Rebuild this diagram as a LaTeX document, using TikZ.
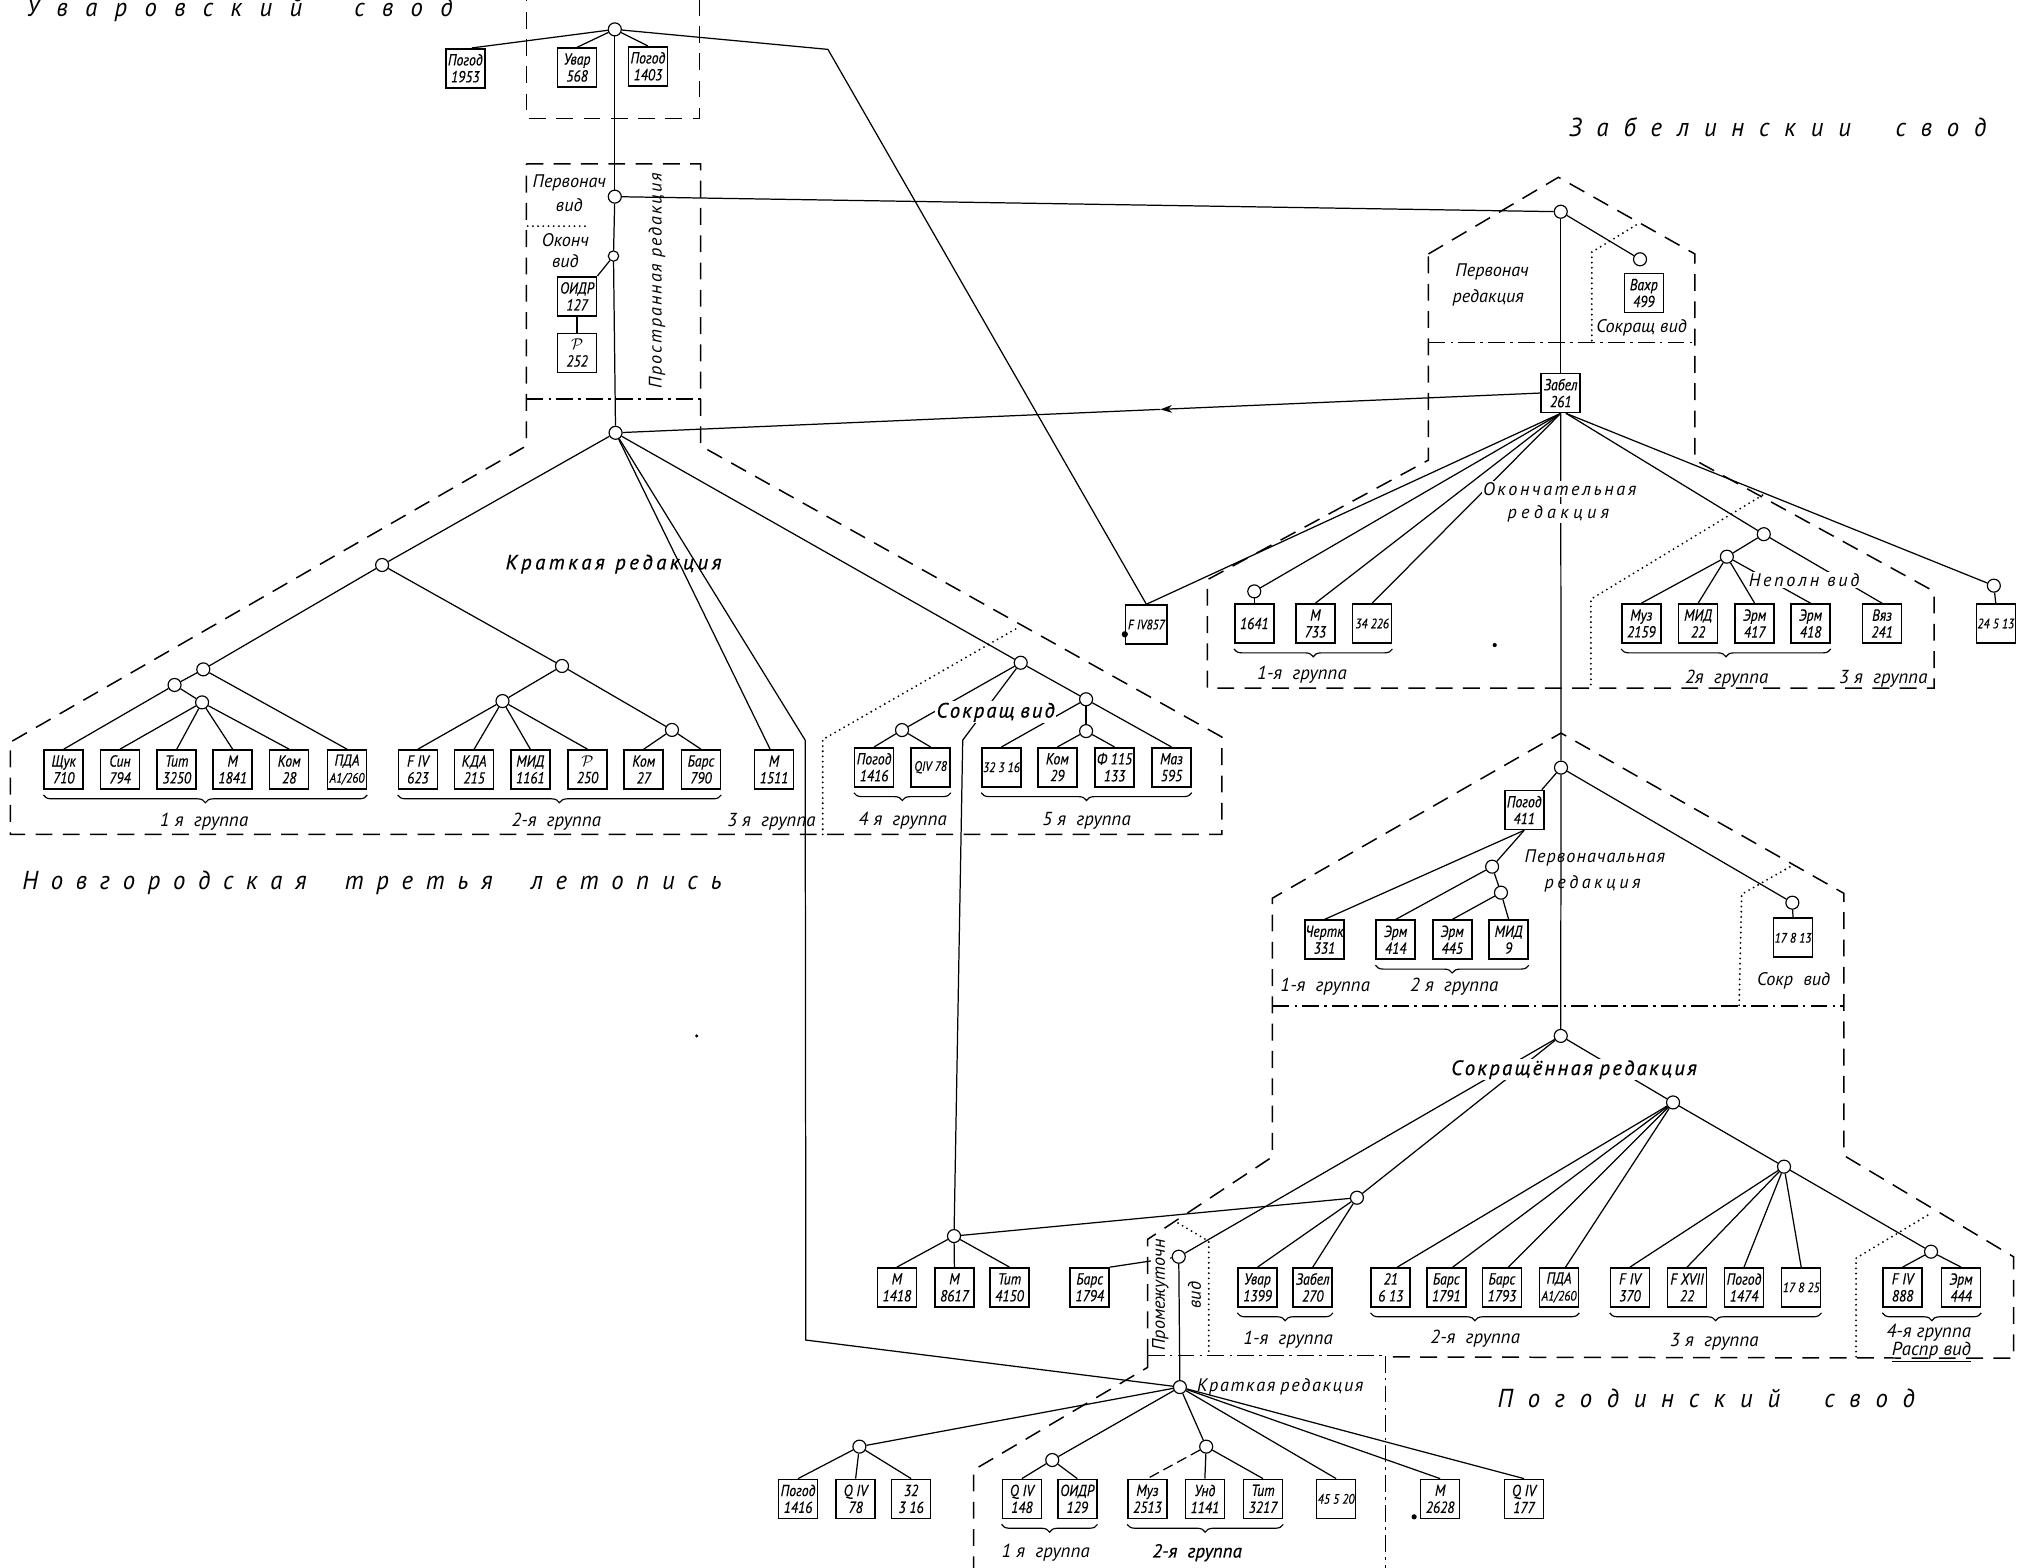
\documentclass[tikz,border=0pt]{standalone}
\usepackage{fontspec}
\setmainfont{PT Sans}
\newfontfamily\labfam[FakeStretch=1.0]{PT Sans}
\newfontfamily\grpfam[FakeStretch=1.0]{PT Sans}
\newfontfamily\ttlfam[FakeStretch=0.95]{PT Sans}
\newfontfamily\labbfam[FakeStretch=1.0,FakeBold=0.6]{PT Sans}
\newfontfamily\boxfam[FakeStretch=0.86,FakeBold=0.3]{PT Sans}
\usetikzlibrary{decorations.pathreplacing,arrows.meta,calc}
\pgfdeclarelayer{back}
\pgfdeclarelayer{bg}
\pgfsetlayers{back,bg,main}
\newcommand\labf{\labfam\itshape\fontsize{14}{15.5}\selectfont}
\newcommand\grpf{\grpfam\itshape\fontsize{14.5}{15.5}\selectfont}
\newcommand\labbf{\labbfam\itshape\fontsize{16}{17}\selectfont}
\newcommand\boxf{\boxfam\itshape\fontsize{12.3}{13}\selectfont}
\newcommand\smbox{\fontsize{10.5}{11}\selectfont}
\newcommand\ttlf{\ttlfam\itshape\fontsize{20}{21}\selectfont}
\newcommand\spr[2]{\makebox[#1][s]{#2}}
\newcommand\gsp{\hspace{4pt}}
\newcommand\gwp{\hspace{8pt}}
\makeatletter
\def\spaceout#1{\spaceout@#1\@nil}
\def\spaceout@#1#2\@nil{#1\ifx\relax#2\relax\else\hfil\spaceout@#2\@nil\fi}
\makeatother
\tikzset{
 bx/.style={draw, line width=1.2pt, minimum width=30pt, minimum height=30pt, inner sep=0pt, align=center, font=\boxf, fill=white},
 nd/.style={circle, draw, line width=0.9pt, minimum size=10pt, inner sep=0pt, fill=white},
 ln/.style={line width=0.95pt},
 dsh/.style={line width=1.15pt, dash pattern=on 13pt off 8pt},
 dd/.style={line width=1pt, dash pattern=on 13pt off 4pt on 2pt off 4pt},
 dt/.style={line width=1.6pt, dash pattern=on 0pt off 4pt, line cap=round},
 lab/.style={font=\labf, inner sep=1pt},
 grp/.style={font=\grpf, inner sep=1pt},
 labb/.style={font=\labbf, inner sep=1pt},
 brc/.style={decorate, decoration={brace, mirror, amplitude=6pt}, line width=0.9pt},
 ttl/.style={font=\ttlf, inner sep=0pt, anchor=base west},
}
\begin{document}
\begin{tikzpicture}[x=1pt,y=-1pt]
\useasboundingbox (0,0) rectangle (1568,1206);
\begin{pgfonlayer}{back}
\fill[white] (0,0) rectangle (1568,1206);
\end{pgfonlayer}

% ---------- titles
\node[ttl] (tU) at (20,13) {\spr{328pt}{\spaceout{Уваровский}\hfil\hfil\hfil\spaceout{свод}}};
\node[ttl] (tZ) at (1207,105) {\spr{321pt}{\spaceout{Забелинскии}\hfil\hfil\hfil\spaceout{свод}}};
\node[ttl] (tN) at (17,684) {\spr{538pt}{\spaceout{Новгородская}\hfil\hfil\hfil\spaceout{третья}\hfil\hfil\hfil\spaceout{летопись}}};
\node[ttl] (tP) at (1152,1083) {\spr{321pt}{\spaceout{Погодинский}\hfil\hfil\hfil\spaceout{свод}}};

% ---------- Uvarov
\node[nd] (u0) at (473,22.6) {};
\node[bx] (pg1953) at (358,52.5) {Погод\\1953};
\node[bx] (uv568) at (444,52) {Увар\\568};
\node[bx] (pg1403) at (498.5,51) {Погод\\1403};
\coordinate (ubend) at (637,38);
\node[nd] (pv) at (473,151.3) {};
\node[nd, minimum size=8pt] (ov) at (472,197) {};
\node[bx] (oidr127) at (444,228) {ОИДР\\127};
\node[bx] (p252) at (444,271.5) {$\mathcal{P}$\\252};

% ---------- Novgorod
\node[nd] (R) at (473.6,333) {};
\node[nd] (A) at (294,434.7) {};
\node[nd] (B1) at (156.4,515) {};
\node[nd] (B2) at (432.4,512.4) {};
\node[nd] (C1) at (134.3,527) {};
\node[nd] (C2) at (155.5,540.4) {};
\node[nd] (C3) at (386.6,539.4) {};
\node[nd] (C4) at (517,561.6) {};
\node[bx] (shchuk) at (49,592) {Щук\\710};
\node[bx] (sin) at (92.3,592) {Син\\794};
\node[bx] (tit3250) at (136,592) {Тит\\3250};
\node[bx] (m1841) at (179,592) {М\\1841};
\node[bx] (kom28) at (222.5,592) {Ком\\28};
\node[bx] (pda) at (267,592) {ПДА\\{\smbox А1/260}};
\node[bx] (fiv623) at (321.5,592) {F IV\\623};
\node[bx] (kda) at (364.8,592) {КДА\\215};
\node[bx] (mid1161) at (408,592) {МИД\\1161};
\node[bx] (p250) at (452,592) {$\mathcal{P}$\\250};
\node[bx] (kom27) at (495.3,592) {Ком\\27};
\node[bx] (bars790) at (539.3,592) {Барс\\790};
\node[bx] (m1511) at (595.5,592) {М\\1511};
\coordinate (nbend) at (619.5,569.5);
\coordinate (nbend2) at (620,1031);
\node[nd] (S) at (785.3,509.9) {};
\node[nd] (T) at (694,561.7) {};
\node[nd] (U) at (835.6,538) {};
\node[nd] (V) at (835.6,562.5) {};
\coordinate (sbend) at (740.7,569.4);
\node[bx] (pg1416) at (672.5,590.3) {Погод\\1416};
\node[bx] (qiv78) at (716,590.3) {\smbox QIV 78};
\node[bx] (b32316) at (770.5,590.3) {\smbox 32 3 16};
\node[bx] (kom29) at (813.5,590.3) {Ком\\29};
\node[bx] (f115) at (857.5,590.3) {Ф 115\\133};
\node[bx] (maz) at (901.3,590.3) {Маз\\595};
\node[bx, minimum width=32pt] (fiv857) at (882,480.5) {\smbox F IV857};

% ---------- Zabelin
\node[nd] (z0) at (1200.8,162.9) {};
\node[nd] (z1) at (1261.8,199.5) {};
\node[bx] (vahr) at (1264.7,225.5) {Вахр\\499};
\node[bx] (zabel261) at (1200.8,302.4) {Забел\\261};
\node[nd] (c1641) at (965,455) {};
\node[nd] (n1) at (1357,411) {};
\node[nd] (n2) at (1328.6,428.3) {};
\node[nd] (c24513) at (1534,450.6) {};
\node[bx] (z1641) at (965,479.7) {1641};
\node[bx] (m733) at (1012,479.7) {М\\733};
\node[bx] (b34226) at (1055.7,479.7) {\smbox 34 226};
\node[bx] (muz2159) at (1262.8,479.7) {Муз\\2159};
\node[bx] (mid22) at (1306.5,479.7) {МИД\\22};
\node[bx] (zrm417) at (1350,479.7) {Эрм\\417};
\node[bx] (zrm418) at (1393,479.7) {Эрм\\418};
\node[bx] (vyaz241) at (1448,479.7) {Вяз\\241};
\node[bx] (b24513) at (1535.5,479.7) {\smbox 24 5 13};
\coordinate (arrowpt) at ($(zabel261.west)!0.411!(R)$);

% ---------- Pogodin
\node[nd] (p0) at (1201,590.6) {};
\node[bx] (pog411) at (1172.7,623.2) {Погод\\411};
\node[nd] (q1) at (1148,666.8) {};
\node[nd] (q2) at (1154.8,686.8) {};
\node[nd] (r1) at (1379,694.5) {};
\node[bx] (chertk) at (1019,723) {Чертк\\331};
\node[bx] (zrm414) at (1073.8,723) {Эрм\\414};
\node[bx] (zrm445) at (1117.3,723) {Эрм\\445};
\node[bx] (mid9) at (1160.7,723) {МИД\\9};
\node[bx] (b17813) at (1379.5,721.5) {\smbox 17 8 13};
\node[nd] (p1) at (1200.8,797) {};
\node[nd] (p2) at (1287.2,848.2) {};
\node[nd] (p3) at (1044,921.5) {};
\node[nd] (p4) at (1372.6,897.6) {};
\node[nd] (p5) at (1485.7,963) {};
\node[nd] (msub) at (734,951) {};
\node[nd] (pr) at (906.9,966.9) {};
\node[nd] (k) at (907.8,1067.2) {};
\node[nd] (k1) at (661.2,1113) {};
\node[nd] (k2) at (809.6,1123.3) {};
\node[nd] (k3) at (928,1113) {};
\node[bx] (m1418) at (690,990.5) {М\\1418};
\node[bx] (m8617) at (734.3,990.5) {М\\8617};
\node[bx] (tit4150) at (776.7,990.5) {Тит\\4150};
\node[bx] (bars1794) at (838.4,990.5) {Барс\\1794};
\node[bx] (uvar1399) at (967.5,990.5) {Увар\\1399};
\node[bx] (zabel270) at (1010,990.5) {Забел\\270};
\node[bx] (b21613) at (1070,990.5) {21\\6 13};
\node[bx] (bars1791) at (1112.7,990.5) {Барс\\1791};
\node[bx] (bars1793) at (1155.5,990.5) {Барс\\1793};
\node[bx] (pda2) at (1199.5,990.5) {ПДА\\{\smbox А1/260}};
\node[bx] (fiv370) at (1254,990.5) {F IV\\370};
\node[bx] (fxvii) at (1298,990.5) {F XVII\\22};
\node[bx] (pog1474) at (1341.8,990.5) {Погод\\1474};
\node[bx] (b17825) at (1385.8,990.5) {\smbox 17 8 25};
\node[bx] (fiv888) at (1463.8,990.5) {F IV\\888};
\node[bx] (zrm444) at (1508.8,990.5) {Эрм\\444};
\node[bx] (pg1416b) at (614,1153.2) {Погод\\1416};
\node[bx] (qiv78b) at (658.3,1153.2) {Q IV\\78};
\node[bx] (b32316b) at (701,1153.2) {32\\3 16};
\node[bx] (qiv148) at (786.2,1153.2) {Q IV\\148};
\node[bx] (oidr129) at (828.8,1153.2) {ОИДР\\129};
\node[bx] (muz2513) at (882.8,1153.2) {Муз\\2513};
\node[bx] (und1141) at (927,1153.2) {Унд\\1141};
\node[bx] (tit3217) at (971.7,1153.2) {Тит\\3217};
\node[bx] (b45520) at (1028,1153.2) {\smbox 45 5 20};
\node[bx] (m2628) at (1108,1153.2) {М\\2628};
\node[bx] (qiv177) at (1172.5,1153.2) {Q IV\\177};

% ---------- labels
\node[lab] (lpv1) at (438,141) {Первонач};
\node[lab] (lpv2) at (438,158) {вид};
\node[lab] (lov1) at (435,185) {Оконч};
\node[lab] (lov2) at (435,201) {вид};
\node[lab, rotate=90] (lpr) at (505.5,216) {\spr{166pt}{\spaceout{Пространная}\hfil\hfil\hfil\spaceout{редакция}}};
\node[labb] (lkrN) at (472,434) {\spr{166pt}{\spaceout{Краткая}\hfil\hfil\hfil\spaceout{редакция}}};
\node[labb, fill=white] (lsvN) at (766,548) {\spr{91pt}{\spaceout{Сокращ}\hfil\hfil\hfil\spaceout{вид}}};
\node[lab] (lpz1) at (1148,209) {Первонач};
\node[lab] (lpz2) at (1145,229.5) {редакция};
\node[lab] (lsvZ) at (1263,252.4) {Сокращ\gsp вид};
\node[lab, fill=white] (lok1) at (1200,376) {\spr{118pt}{\spaceout{Окончательная}}};
\node[lab, fill=white] (lok2) at (1199,395) {\spr{78pt}{\spaceout{редакция}}};
\node[lab, fill=white] (lnp) at (1388,446) {\spr{85pt}{\spaceout{Неполн}\hfil\hfil\hfil\spaceout{вид}}};
\node[lab] (lpp1) at (1227,660) {\spr{108pt}{\spaceout{Первоначальная}}};
\node[lab] (lpp2) at (1225.3,680) {\spr{74pt}{\spaceout{редакция}}};
\node[lab] (lsk) at (1380,754.5) {Сокр\gwp вид};
\node[labb, fill=white] (lsr) at (1211,823) {\spr{189pt}{\spaceout{Сокращённая}\hfil\hfil\hfil\spaceout{редакция}}};
\node[lab, fill=white, rotate=90] (lpm1) at (892.8,999) {\spr{80pt}{\spaceout{Промежуточн}}};
\node[lab, rotate=90] (lpm2) at (919,996.4) {вид};
\node[lab] (lkrP) at (985,1067) {\spr{128pt}{\spaceout{Краткая}\hfil\hfil\hfil\spaceout{редакция}}};

% group labels
\node[grp] (g1) at (157,632) {1\gsp я\gwp группа};
\node[grp] (g2) at (428,632) {2-я\gwp группа};
\node[grp] (g3) at (593.5,632) {3\gsp я\gwp группа};
\node[grp] (g4) at (694.5,631.6) {4\gsp я\gwp группа};
\node[grp] (g5) at (836,631.6) {5\gsp я\gwp группа};
\node[grp] (gz1) at (1001.7,519) {1-я\gwp группа};
\node[grp] (gz2) at (1328.5,522) {2я\gwp группа};
\node[grp] (gz3) at (1449,522) {3\gsp я\gwp группа};
\node[grp] (gp1) at (1019.6,759) {1-я\gwp группа};
\node[grp] (gp2) at (1118.8,759) {2\gsp я\gwp группа};
\node[grp] (gs1) at (991,1031) {1-я\gwp группа};
\node[grp] (gs2) at (1135,1030) {2-я\gwp группа};
\node[grp] (gs3) at (1319,1032) {3\gsp я\gwp группа};
\node[grp] (gs4) at (1484,1025.4) {4-я\gsp группа};
\node[grp] (gs5) at (1486,1040) {\underline{Распр\gsp вид}};
\node[grp] (gk1) at (804.5,1194.6) {1\gsp я\gwp группа};
\node[labb, font=\labbfam\itshape\fontsize{14.5}{15}\selectfont] (gk2) at (921,1194.6) {2-я\gwp группа};

% ---------- boundaries and connectors
\begin{pgfonlayer}{bg}
% Uvarov & Novgorod boundaries
\draw[dsh] (405,-12) -- (405,91) -- (538,91) -- (538,-12);
\draw[dsh] (405,126) -- (539,126) -- (539,343) -- (940,567) -- (940,642) -- (8,642) -- (8,571) -- (405,343) -- cycle;
\draw[dd] (405,307) -- (539,307);
\draw[dt] (406,174) -- (452,174);
\draw[dt] (633,642) -- (633,569) -- (783,483);
% Zabelin boundaries
\draw[dsh] (1099,195.4) -- (1199,136.4) -- (1304,195.4) -- (1304,354) -- (1488,455) -- (1488,529.5) -- (929,529.5) -- (929,446) -- (1099,354) -- cycle;
\draw[dd] (1099,263.7) -- (1304,263.7);
\draw[dt] (1224.7,262) -- (1224.7,194) -- (1259,173);
\draw[dt] (1356,381) -- (1224,461) -- (1224,529.5);
% Pogodin boundaries
\draw[dsh] (883,1043) -- (883,953.5) -- (979,890) -- (979,691) -- (1201,564) -- (1418.6,687.3) -- (1418.6,889) -- (1549.3,967) -- (1549.3,1045) -- (1066,1044);
\draw[dd] (979,774) -- (1418.6,774);
\draw[dd] (883,1043) -- (1066,1043);
\draw[dt] (1377,667) -- (1340,688) -- (1338,774);
\draw[dt] (906.4,941) -- (930,955) -- (930,1043);
\draw[dt] (1483,935) -- (1428,968) -- (1428,1044);
\draw[dsh] (883,1043) -- (883,1052) -- (749,1131) -- (749,1215);
\draw[dd] (1066,1043) -- (1066,1215);

% Uvarov connectors
\draw[ln] (u0) -- ([xshift=5pt]pg1953.north);
\draw[ln] (u0) -- (uv568.north);
\draw[ln] (u0) -- (pg1403.north);
\draw[ln] (u0) -- (ubend) -- (fiv857.north);
\draw[ln] (u0) -- (pv);
\draw[ln] (pv) -- (ov);
\draw[ln] (ov) -- (R);
\draw[ln] (ov) -- (oidr127.north east);
\draw[ln] (oidr127) -- (p252);
\draw[ln] (pv) -- (z0);
\draw[ln,-{Stealth[length=9pt,width=6pt]}] (zabel261.west) -- (arrowpt);
\draw[ln] (arrowpt) -- (R);

% Novgorod connectors
\draw[ln] (R) -- (A);
\draw[ln] (A) -- (B1);
\draw[ln] (A) -- (B2);
\draw[ln] (B1) -- (C1);
\draw[ln] (C1) -- (shchuk.north);
\draw[ln] (C1) -- (C2);
\draw[ln] (C2) -- (sin.north);
\draw[ln] (C2) -- (tit3250.north);
\draw[ln] (C2) -- (m1841.north);
\draw[ln] (C2) -- (kom28.north);
\draw[ln] (B1) -- (pda.north);
\draw[ln] (B2) -- (C3);
\draw[ln] (B2) -- (C4);
\draw[ln] (C3) -- (fiv623.north);
\draw[ln] (C3) -- (kda.north);
\draw[ln] (C3) -- (mid1161.north);
\draw[ln] (C3) -- (p250.north);
\draw[ln] (C4) -- (kom27.north);
\draw[ln] (C4) -- (bars790.north);
\draw[ln] (R) -- ([xshift=-3pt]m1511.north);
\draw[ln] (R) -- (nbend) -- (nbend2) -- (k);
\draw[ln] (R) -- (S);
\draw[ln] (S) -- (T);
\draw[ln] (T) -- (pg1416.north);
\draw[ln] (T) -- (qiv78.north);
\draw[ln] (S) -- (sbend) -- (msub);
\draw[ln] (S) -- (U);
\draw[ln] (U) -- (b32316.north);
\draw[ln] (U) -- (V);
\draw[ln] (U) -- (maz.north);
\draw[ln] (V) -- (kom29.north);
\draw[ln] (V) -- (f115.north);

% Zabelin connectors
\draw[ln] (z0) -- (z1);
\draw[ln] (z0) -- (zabel261.north);
\draw[ln] (zabel261.south) -- (fiv857.north);
\draw[ln] (zabel261.south) -- (c1641);
\draw[ln] (c1641) -- (z1641.north);
\draw[ln] (zabel261.south) -- (m733.north);
\draw[ln] (zabel261.south) -- (b34226.north);
\draw[ln] ([xshift=4pt]zabel261.south) -- (n1);
\draw[ln] (n1) -- (n2);
\draw[ln] (n1) -- (vyaz241.north);
\draw[ln] (n2) -- (muz2159.north);
\draw[ln] (n2) -- (mid22.north);
\draw[ln] (n2) -- (zrm417.north);
\draw[ln] (n2) -- (zrm418.north);
\draw[ln] ([xshift=4pt]zabel261.south) -- (c24513);
\draw[ln] (c24513) -- (b24513.north);
\draw[ln] (zabel261.south) -- (p0);

% Pogodin connectors
\draw[ln] (p0) -- (pog411);
\draw[ln] (pog411.south) -- (chertk.north);
\draw[ln] (pog411.south) -- (q1);
\draw[ln] (q1) -- (q2);
\draw[ln] (q1) -- (zrm414.north);
\draw[ln] (q2) -- (zrm445.north);
\draw[ln] (q2) -- (mid9.north);
\draw[ln] (p0) -- (r1);
\draw[ln] (r1) -- (b17813.north);
\draw[ln] (p0) -- (p1);
\draw[ln] (p1) -- (pr);
\draw[ln] (p1) -- (p3);
\draw[ln] (p1) -- (p2);
\draw[ln] (p3) -- (msub);
\draw[ln] (p3) -- (uvar1399.north);
\draw[ln] (p3) -- (zabel270.north);
\draw[ln] (msub) -- (m1418.north);
\draw[ln] (msub) -- (m8617.north);
\draw[ln] (msub) -- (tit4150.north);
\draw[ln] (bars1794.north east) -- (pr);
\draw[ln] (p2) -- ([xshift=5pt]b21613.north);
\draw[ln] (p2) -- ([xshift=5pt]bars1791.north);
\draw[ln] (p2) -- ([xshift=5pt]bars1793.north);
\draw[ln] (p2) -- ([xshift=5pt]pda2.north);
\draw[ln] (p2) -- (p4);
\draw[ln] (p4) -- (fiv370.north);
\draw[ln] (p4) -- (fxvii.north);
\draw[ln] (p4) -- (pog1474.north);
\draw[ln] (p4) -- (b17825.north);
\draw[ln] (p4) -- (p5);
\draw[ln] (p5) -- (fiv888.north);
\draw[ln] (p5) -- (zrm444.north);
\draw[ln] (pr) -- (k);
\draw[ln] (k) -- (k1);
\draw[ln] (k1) -- (pg1416b.north);
\draw[ln] (k1) -- (qiv78b.north);
\draw[ln] (k1) -- (b32316b.north);
\draw[ln] (k) -- (k2);
\draw[ln] (k2) -- (qiv148.north);
\draw[ln] (k2) -- (oidr129.north);
\draw[ln] (k) -- (k3);
\draw[ln, dash pattern=on 8pt off 4pt] (k3) -- (muz2513.north);
\draw[ln] (k3) -- (und1141.north);
\draw[ln] (k3) -- (tit3217.north);
\draw[ln] (k) -- (b45520.north);
\draw[ln] (k) -- (m2628.north);
\draw[ln] (k) -- (qiv177.north);

% braces
\draw[brc] ([yshift=-4pt]shchuk.south west) -- ([yshift=-4pt]pda.south east);
\draw[brc] ([yshift=-4pt]fiv623.south west) -- ([yshift=-4pt]bars790.south east);
\draw[brc] ([yshift=-4pt]pg1416.south west) -- ([yshift=-4pt]qiv78.south east);
\draw[brc] ([yshift=-4pt]b32316.south west) -- ([yshift=-4pt]maz.south east);
\draw[brc] ([yshift=-4pt]z1641.south west) -- ([yshift=-4pt]b34226.south east);
\draw[brc] ([yshift=-4pt]muz2159.south west) -- ([yshift=-4pt]zrm418.south east);
\draw[brc] ([yshift=-4pt]zrm414.south west) -- ([yshift=-4pt]mid9.south east);
\draw[brc] ([yshift=-4pt]uvar1399.south west) -- ([yshift=-4pt]zabel270.south east);
\draw[brc] ([yshift=-4pt]b21613.south west) -- ([yshift=-4pt]pda2.south east);
\draw[brc] ([yshift=-4pt]fiv370.south west) -- ([yshift=-4pt]b17825.south east);
\draw[brc] ([yshift=-4pt]fiv888.south west) -- ([yshift=-4pt]zrm444.south east);
\draw[brc] ([yshift=-4pt]qiv148.south west) -- ([yshift=-4pt]oidr129.south east);
\draw[brc] ([yshift=-4pt]muz2513.south west) -- ([yshift=-4pt]tit3217.south east);
\end{pgfonlayer}

% small dots
\fill (fiv857.west) ++(0,7.5) circle (2.4pt);
\fill (1150,496.3) circle (1.6pt);
\fill (536,797) circle (1.3pt);
\fill (1088,1167) circle (2pt);
\end{tikzpicture}
\end{document}
